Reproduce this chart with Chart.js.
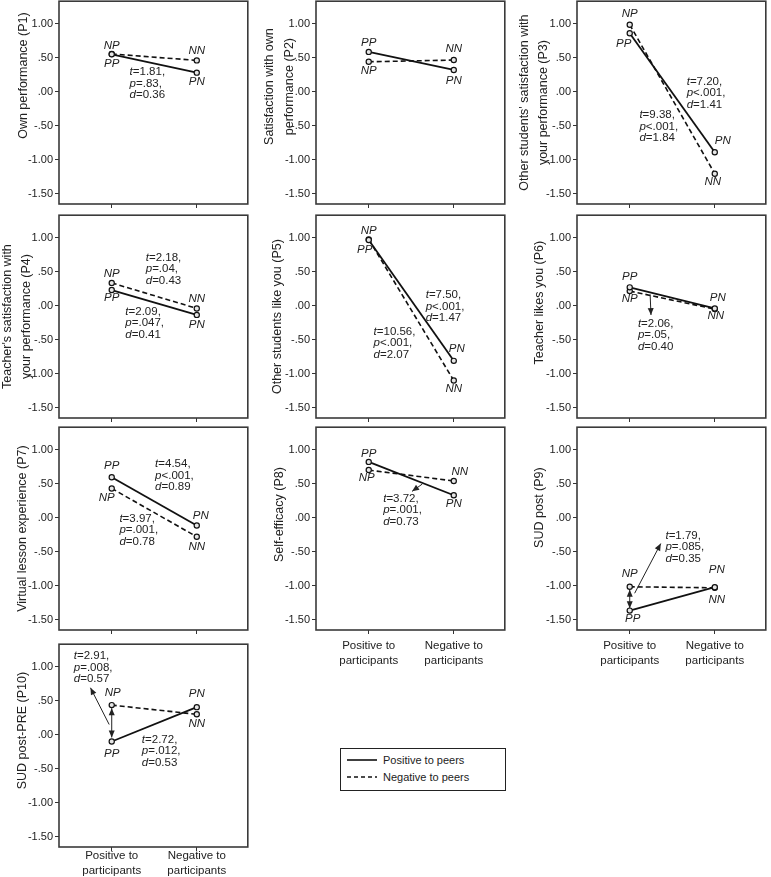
<!DOCTYPE html>
<html>
<head>
<meta charset="utf-8">
<script src="https://cdn.jsdelivr.net/npm/chart.js@4.4.1/dist/chart.umd.min.js"></script>
<style>
  body { margin: 0; background: #fff; width: 771px; height: 877px; position: relative; overflow: hidden;
         font-family: 'Liberation Sans', Arial, sans-serif; }
  canvas { position: absolute; }
  #legend { position: absolute; left: 340px; top: 748px; width: 164px; height: 41px; border: 1px solid #222;
            font-size: 11px; color: #222; }
  #legend .row { position: absolute; left: 6px; height: 14px; display: flex; align-items: center; }
  #legend svg { margin-right: 6px; }
</style>
</head>
<body>
<div id="legend">
  <div class="row" style="top:4px"><svg width="30" height="4"><line x1="0" y1="2" x2="30" y2="2" stroke="#111" stroke-width="1.6"/></svg><span id="lg0"></span></div>
  <div class="row" style="top:21px"><svg width="30" height="4"><line x1="0" y1="2" x2="30" y2="2" stroke="#111" stroke-width="1.5" stroke-dasharray="4,3"/></svg><span id="lg1"></span></div>
</div>
<script>
// y axis titles, one per panel
const panelTitles = [
  ['Own performance (P1)'],
  ['Satisfaction with own', 'performance (P2)'],
  ["Other students' satisfaction with", 'your performance (P3)'],
  ["Teacher's satisfaction with", 'your performance (P4)'],
  ['Other students like you (P5)'],
  ['Teacher likes you (P6)'],
  ['Virtual lesson experience (P7)'],
  ['Self-efficacy (P8)'],
  ['SUD post (P9)'],
  ['SUD post-PRE (P10)']
];
const categories = [['Positive to', 'participants'], ['Negative to', 'participants']];
const seriesNames = ['Positive to peers', 'Negative to peers'];
const yTickValues = [1, 0.5, 0, -0.5, -1, -1.5];
const yTickLabels = ['1.00', '.50', '.00', '-.50', '-1.00', '-1.50'];

// means (P1..P10)
const PP = [0.55, 0.585, 0.86, 0.23, 0.965, 0.27, 0.595, 0.82, -1.365, -0.10];   // positive peers, positive to participants
const PN = [0.28, 0.32, -0.89, -0.135, -0.81, -0.04, -0.115, 0.33, -1.02, 0.405]; // positive peers, negative to participants
const NP = [0.555, 0.44, 0.985, 0.335, 0.975, 0.215, 0.43, 0.70, -1.015, 0.435];  // negative peers, positive to participants
const NN = [0.46, 0.465, -1.205, -0.04, -1.10, -0.05, -0.28, 0.54, -1.03, 0.30];  // negative peers, negative to participants

// t-test annotations
const statsText = [
  [['t', '=1.81,', 'p', '=.83,', 'd', '=0.36']],
  [],
  [['t', '=7.20,', 'p', '<.001,', 'd', '=1.41'], ['t', '=9.38,', 'p', '<.001,', 'd', '=1.84']],
  [['t', '=2.18,', 'p', '=.04,', 'd', '=0.43'], ['t', '=2.09,', 'p', '=.047,', 'd', '=0.41']],
  [['t', '=7.50,', 'p', '<.001,', 'd', '=1.47'], ['t', '=10.56,', 'p', '<.001,', 'd', '=2.07']],
  [['t', '=2.06,', 'p', '=.05,', 'd', '=0.40']],
  [['t', '=4.54,', 'p', '<.001,', 'd', '=0.89'], ['t', '=3.97,', 'p', '=.001,', 'd', '=0.78']],
  [['t', '=3.72,', 'p', '=.001,', 'd', '=0.73']],
  [['t', '=1.79,', 'p', '=.085,', 'd', '=0.35']],
  [['t', '=2.91,', 'p', '=.008,', 'd', '=0.57'], ['t', '=2.72,', 'p', '=.012,', 'd', '=0.53']]
];

// layout of the grid and annotation placement
const colLeft = [59, 316, 577];
const rowTop = [1, 215, 427, 644];
const layout = [
  { col: 0, row: 0, shift: -27, tx: [-35], stats: [[0.21, 0.29]], lab: { NP: [0, -8], PP: [0, 10], NN: [0, -10], PN: [0, 9] }, arrows: [] },
  { col: 1, row: 0, shift: -16, tx: [-46, -26], stats: [], lab: { PP: [0, -9], NP: [0, 9], NN: [0, -11], PN: [0, 11] }, arrows: [] },
  { col: 2, row: 0, shift: 0, tx: [-52, -33], stats: [[0.67, 0.146], [0.114, -0.34]], lab: { NP: [0, -11], PP: [-6, 11], PN: [8, -11], NN: [-2, 8] }, arrows: [] },
  { col: 0, row: 1, shift: 0, tx: [-51, -32], stats: [[0.40, 0.707], [0.16, -0.088]], lab: { NP: [0, -9], PP: [0, 8], NN: [0, -10], PN: [0, 10] }, arrows: [] },
  { col: 1, row: 1, shift: 0, tx: [-38], stats: [[0.67, 0.156], [0.057, -0.38]], lab: { NP: [0, -9], PP: [-4, 10], PN: [3, -12], NN: [0, 8] }, arrows: [] },
  { col: 2, row: 1, shift: -14, tx: [-37], stats: [[0.096, -0.26]], lab: { PP: [0, -11], NP: [0, 8], PN: [3, -11], NN: [1, 7] },
    arrows: [[0.24, 0.166, 0.25, -0.137, false]] },
  { col: 0, row: 2, shift: 0, tx: [-36], stats: [[0.51, 0.79], [0.09, -0.01]], lab: { PP: [0, -11], NP: [-5, 9], PN: [4, -10], NN: [0, 10] }, arrows: [] },
  { col: 1, row: 2, shift: -14, tx: [-36], stats: [[0.17, 0.284]], lab: { PP: [0, -8], NP: [-2, 8], NN: [6, -9], PN: [0, 9] },
    arrows: [[0.63, 0.495, 0.51, 0.387, false]], showX: true, xPad: 5 },
  { col: 2, row: 2, shift: -21, tx: [-37], stats: [[0.42, -0.26]], lab: { NP: [0, -13], PP: [3, 8], PN: [2, -17], NN: [2, 12] },
    arrows: [[0, -1.06, 0, -1.33, true], [0.058, -1.11, 0.365, -0.38, false]], showX: true, xPad: 5 },
  { col: 0, row: 3, shift: -15, tx: [-36], stats: [[-0.446, 1.157], [0.354, -0.07]], lab: { NP: [1, -12], PP: [0, 12], PN: [0, -13], NN: [0, 10] },
    arrows: [[0, 0.39, 0, -0.04, true], [-0.03, 0.15, -0.25, 0.69, false]], showX: true, xPad: -2 }
];
const TOP_SLACK = 4; // extra top space the layout keeps above the plot area

document.getElementById('lg0').textContent = seriesNames[0];
document.getElementById('lg1').textContent = seriesNames[1];

const FONT = "'Liberation Sans', Arial, sans-serif";
const INK = '#222';

function arrowHead(ctx, x1, y1, x2, y2) {
  const a = Math.atan2(y2 - y1, x2 - x1), len = 7, w = 3;
  ctx.beginPath();
  ctx.moveTo(x2, y2);
  ctx.lineTo(x2 - len * Math.cos(a) + w * Math.sin(a), y2 - len * Math.sin(a) - w * Math.cos(a));
  ctx.lineTo(x2 - len * Math.cos(a) - w * Math.sin(a), y2 - len * Math.sin(a) + w * Math.cos(a));
  ctx.closePath();
  ctx.fill();
}

const deco = {
  id: 'deco',
  beforeDatasetsDraw(chart) {
    const { ctx, chartArea: a } = chart;
    ctx.save();
    ctx.strokeStyle = '#3a3a3a';
    ctx.lineWidth = 1.6;
    ctx.strokeRect(a.left, a.top, a.right - a.left, a.bottom - a.top);
    ctx.restore();
  },
  afterDraw(chart) {
    const { ctx, chartArea: a, scales: { x, y } } = chart;
    const i = chart.options.plugins.deco.panel;
    const L = layout[i];
    ctx.save();
    ctx.fillStyle = INK;
    ctx.strokeStyle = INK;

    // y axis title
    const cy = (a.top + a.bottom) / 2 + L.shift;
    ctx.font = '12.5px ' + FONT;
    ctx.textAlign = 'center';
    ctx.textBaseline = 'middle';
    panelTitles[i].forEach((t, k) => {
      ctx.save();
      ctx.translate(a.left + L.tx[k], cy);
      ctx.rotate(-Math.PI / 2);
      ctx.fillText(t, 0, 0);
      ctx.restore();
    });

    // point labels
    ctx.font = 'italic 11.5px ' + FONT;
    const pts = { PP: [0, PP[i]], PN: [1, PN[i]], NP: [0, NP[i]], NN: [1, NN[i]] };
    Object.keys(L.lab).forEach(k => {
      const [dx, dy] = L.lab[k];
      ctx.fillText(k, x.getPixelForValue(pts[k][0]) + dx, y.getPixelForValue(pts[k][1]) + dy);
    });

    // statistics text
    ctx.textAlign = 'left';
    statsText[i].forEach((blk, b) => {
      const px = x.getPixelForValue(L.stats[b][0]);
      let py = y.getPixelForValue(L.stats[b][1]);
      for (let j = 0; j < blk.length; j += 2) {
        ctx.font = 'italic 11.5px ' + FONT;
        ctx.fillText(blk[j], px, py);
        const w = ctx.measureText(blk[j]).width;
        ctx.font = '11.5px ' + FONT;
        ctx.fillText(blk[j + 1], px + w, py);
        py += 11.5;
      }
    });

    // arrows
    ctx.lineWidth = 1;
    L.arrows.forEach(([ax1, ay1, ax2, ay2, both]) => {
      const x1 = x.getPixelForValue(ax1), y1 = y.getPixelForValue(ay1);
      const x2 = x.getPixelForValue(ax2), y2 = y.getPixelForValue(ay2);
      ctx.beginPath();
      ctx.moveTo(x1, y1);
      ctx.lineTo(x2, y2);
      ctx.stroke();
      arrowHead(ctx, x1, y1, x2, y2);
      if (both) arrowHead(ctx, x2, y2, x1, y1);
    });
    ctx.restore();
  }
};

function makePanel(i) {
  const L = layout[i];
  const axisH = L.showX ? 44 : 6;
  const cv = document.createElement('canvas');
  cv.width = 59 + 192 + 2;
  cv.height = TOP_SLACK + 1 + 203 + axisH;
  cv.style.left = (colLeft[L.col] - 59) + 'px';
  cv.style.top = (rowTop[L.row] - 1 - TOP_SLACK) + 'px';
  document.body.appendChild(cv);

  const pointStyle = { pointRadius: 2.6, pointBorderWidth: 1.2, pointBackgroundColor: '#e6e6e6', pointBorderColor: '#111' };
  new Chart(cv, {
    type: 'line',
    data: {
      datasets: [
        Object.assign({ label: seriesNames[0], data: [{ x: 0, y: PP[i] }, { x: 1, y: PN[i] }],
          borderColor: '#111', borderWidth: 1.8 }, pointStyle),
        Object.assign({ label: seriesNames[1], data: [{ x: 0, y: NP[i] }, { x: 1, y: NN[i] }],
          borderColor: '#111', borderWidth: 1.6, borderDash: [5, 3] }, pointStyle)
      ]
    },
    options: {
      responsive: false,
      animation: false,
      devicePixelRatio: 1,
      layout: { padding: { top: 1, right: 2, left: 0, bottom: 0 } },
      plugins: { legend: { display: false }, tooltip: { enabled: false }, deco: { panel: i } },
      scales: {
        x: {
          type: 'linear', min: -0.62, max: 1.6,
          afterBuildTicks: s => { s.ticks = [{ value: 0 }, { value: 1 }]; },
          afterFit: s => { s.height = axisH; s.paddingLeft = 0; s.paddingRight = 0; },
          ticks: { callback: v => (L.showX ? categories[v] : ''), autoSkip: false, maxRotation: 0,
                   font: { family: FONT, size: 11.5, lineHeight: 1.25 }, color: INK, padding: L.xPad || 0 },
          grid: { drawOnChartArea: false, drawTicks: true, tickLength: 4, color: '#333' },
          border: { display: false }
        },
        y: {
          min: -1.65, max: 1.33,
          afterBuildTicks: s => { s.ticks = yTickValues.map(v => ({ value: v })); },
          afterFit: s => { s.width = 59; s.paddingTop = 0; s.paddingBottom = 0; },
          ticks: { callback: (v, idx) => yTickLabels[idx], font: { family: FONT, size: 11 }, color: INK, padding: 2 },
          grid: { drawOnChartArea: false, drawTicks: true, tickLength: 4, color: '#333' },
          border: { display: false }
        }
      }
    },
    plugins: [deco]
  });
}

for (let i = 0; i < panelTitles.length; i++) makePanel(i);
</script>
</body>
</html>
